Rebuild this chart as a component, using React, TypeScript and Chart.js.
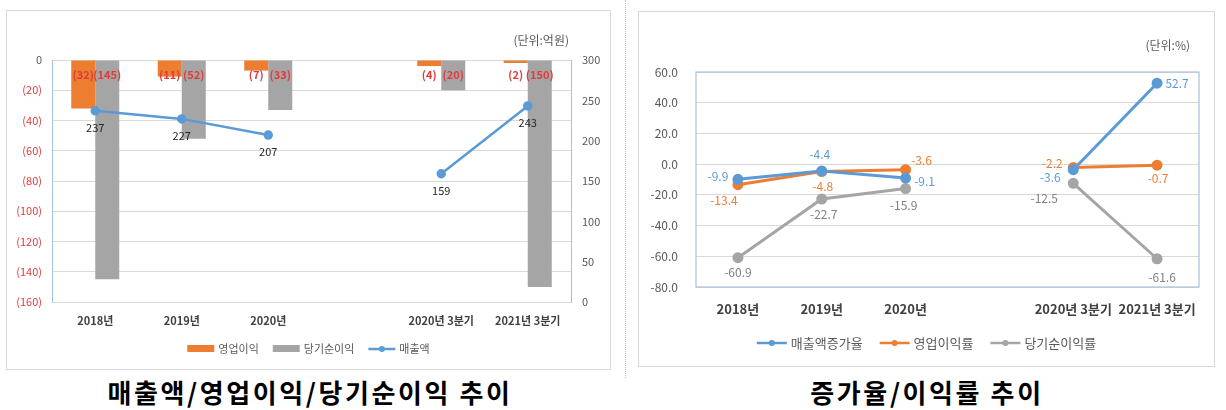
import React, { useEffect, useRef } from "react";
import { Chart, registerables } from "chart.js";
Chart.register(...registerables);

// ---------- data ----------
const categories = ["2018년", "2019년", "2020년", "", "2020년 3분기", "2021년 3분기"];
const operatingProfit = [-32, -11, -7, null, -4, -2];
const netProfit = [-145, -52, -33, null, -20, -150];
const sales = [237, 227, 207, null, 159, 243];

const salesGrowth = [-9.9, -4.4, -9.1, null, -3.6, 52.7];
const operatingMargin = [-13.4, -4.8, -3.6, null, -2.2, -0.7];
const netMargin = [-60.9, -22.7, -15.9, null, -12.5, -61.6];

const leftTitle = "매출액/영업이익/당기순이익 추이";
const rightTitle = "증가율/이익률 추이";
const leftUnit = "(단위:억원)";
const rightUnit = "(단위:%)";

// ---------- styles ----------
const BLUE = "#5B9BD5";
const ORANGE = "#ED7D31";
const GRAY = "#A5A5A5";
const RED = "#e03c3c";
const TEXT = "#595959";
const FONT = "'Noto Sans CJK KR', 'Noto Sans', sans-serif";

// label offsets (dx, dy) relative to each point for the right chart
const growthLabelOffsets = [[-20, -3], [-2, -16], [19, 3], null, [-23, 8], [20, 0]];
const opLabelOffsets = [[-14, 16], [1, 15], [16, -9], null, [-21, -4], [1, 13]];
const netLabelOffsets = [[0, 15], [2, 15], [-2, 17], null, [-29, 15], [5, 19]];

type LegendItem = { kind: "rect" | "line"; color: string; text: string };

function drawLegend(chart: any, items: LegendItem[], y: number, fontSize: number, sample: number, gap: number) {
  const ctx = chart.ctx;
  ctx.save();
  ctx.font = `${fontSize}px ${FONT}`;
  const widths = items.map((it) => sample + 4 + ctx.measureText(it.text).width);
  const total = widths.reduce((a, b) => a + b, 0) + gap * (items.length - 1);
  let x = chart.width / 2 - total / 2;
  items.forEach((it, i) => {
    if (it.kind === "rect") {
      ctx.fillStyle = it.color;
      ctx.fillRect(x, y - 4, sample, 7);
    } else {
      ctx.strokeStyle = it.color;
      ctx.lineWidth = 2.5;
      ctx.beginPath();
      ctx.moveTo(x, y);
      ctx.lineTo(x + sample, y);
      ctx.stroke();
      ctx.fillStyle = it.color;
      ctx.beginPath();
      ctx.arc(x + sample / 2, y, 3, 0, Math.PI * 2);
      ctx.fill();
    }
    ctx.fillStyle = TEXT;
    ctx.textAlign = "left";
    ctx.textBaseline = "middle";
    ctx.fillText(it.text, x + sample + 4, y);
    x += widths[i] + gap;
  });
  ctx.restore();
}

export default function App() {
  const leftRef = useRef<HTMLCanvasElement>(null);
  const rightRef = useRef<HTMLCanvasElement>(null);

  useEffect(() => {
    document.body.style.margin = "0";
    document.body.style.background = "#ffffff";
    Chart.defaults.font.family = FONT;

    const leftPlugin = {
      id: "leftLabels",
      afterDatasetsDraw(chart: any) {
        const ctx = chart.ctx;
        ctx.save();
        ctx.textAlign = "center";
        ctx.textBaseline = "middle";
        // bar labels
        [0, 1].forEach((di) => {
          const meta = chart.getDatasetMeta(di);
          const data = chart.data.datasets[di].data;
          ctx.font = `bold 11px ${FONT}`;
          ctx.fillStyle = RED;
          meta.data.forEach((el: any, j: number) => {
            const v = data[j];
            if (v === null || v === undefined) return;
            ctx.fillText(`(${Math.abs(v)})`, el.x, chart.chartArea.top + 15);
          });
        });
        // line labels
        const meta = chart.getDatasetMeta(2);
        const data = chart.data.datasets[2].data;
        ctx.font = `11px ${FONT}`;
        ctx.fillStyle = "#262626";
        meta.data.forEach((el: any, j: number) => {
          const v = data[j];
          if (v === null || v === undefined) return;
          ctx.fillText(String(v), el.x, el.y + 17);
        });
        // unit
        ctx.font = `12px ${FONT}`;
        ctx.fillStyle = TEXT;
        ctx.textAlign = "right";
        ctx.fillText(leftUnit, chart.chartArea.right - 2, 30);
        ctx.restore();
        drawLegend(
          chart,
          [
            { kind: "rect", color: ORANGE, text: chart.data.datasets[0].label },
            { kind: "rect", color: GRAY, text: chart.data.datasets[1].label },
            { kind: "line", color: BLUE, text: chart.data.datasets[2].label },
          ],
          339,
          11,
          27,
          14
        );
      },
    };

    const c1 = new Chart(leftRef.current as HTMLCanvasElement, {
      type: "bar",
      data: {
        labels: categories,
        datasets: [
          {
            label: "영업이익",
            data: operatingProfit as any,
            backgroundColor: ORANGE,
            yAxisID: "y",
            order: 2,
            barPercentage: 1,
            categoryPercentage: 0.555,
          },
          {
            label: "당기순이익",
            data: netProfit as any,
            backgroundColor: GRAY,
            yAxisID: "y",
            order: 2,
            barPercentage: 1,
            categoryPercentage: 0.555,
          },
          {
            type: "line",
            label: "매출액",
            data: sales as any,
            yAxisID: "y1",
            borderColor: BLUE,
            backgroundColor: BLUE,
            borderWidth: 2.5,
            pointRadius: 3.5,
            pointBackgroundColor: BLUE,
            pointBorderColor: BLUE,
            spanGaps: false,
            order: 0,
          } as any,
        ],
      },
      options: {
        animation: false,
        responsive: false,
        layout: { padding: { top: 50, right: 0, bottom: 38, left: 0 } },
        plugins: { legend: { display: false }, tooltip: { enabled: false } },
        scales: {
          x: {
            grid: { display: false, drawTicks: false },
            border: { display: true, color: "#d9d9d9" },
            ticks: { font: { size: 11, weight: "bold" }, color: "#404040", padding: 12, autoSkip: false, maxRotation: 0 },
            afterFit: (s: any) => {
              s.height = 30;
            },
          },
          y: {
            position: "left",
            min: -160,
            max: 0,
            ticks: {
              stepSize: 20,
              callback: (v: any) => (Number(v) === 0 ? "0" : `(${Math.abs(Number(v))})`),
              color: (c: any) => (c.tick && c.tick.value < 0 ? RED : TEXT),
              font: { size: 11 },
              padding: 10,
            },
            grid: { color: "#d9d9d9", drawTicks: false },
            border: { color: "#9dc3e6" },
            afterFit: (s: any) => {
              s.width = 46;
            },
          },
          y1: {
            position: "right",
            min: 0,
            max: 300,
            ticks: { stepSize: 50, color: TEXT, font: { size: 11 }, padding: 11 },
            grid: { display: false, drawTicks: false },
            border: { color: "#9dc3e6" },
            afterFit: (s: any) => {
              s.width = 40;
            },
          },
        },
      } as any,
      plugins: [leftPlugin],
    });

    const offsetsList = [growthLabelOffsets, opLabelOffsets, netLabelOffsets];
    const labelColors = [BLUE, ORANGE, "#808080"];

    const rightPlugin = {
      id: "rightLabels",
      beforeDatasetsDraw(chart: any) {
        const { left, top, right, bottom } = chart.chartArea;
        const ctx = chart.ctx;
        ctx.save();
        ctx.strokeStyle = "#a9c0dc";
        ctx.lineWidth = 1.2;
        ctx.strokeRect(left, top, right - left, bottom - top);
        ctx.restore();
      },
      afterDatasetsDraw(chart: any) {
        const ctx = chart.ctx;
        ctx.save();
        ctx.textAlign = "center";
        ctx.textBaseline = "middle";
        ctx.font = `12px ${FONT}`;
        chart.data.datasets.forEach((ds: any, di: number) => {
          const meta = chart.getDatasetMeta(di);
          ctx.fillStyle = labelColors[di];
          meta.data.forEach((el: any, j: number) => {
            const v = ds.data[j];
            const off = offsetsList[di][j];
            if (v === null || v === undefined || !off) return;
            ctx.fillText(Number(v).toFixed(1), el.x + off[0], el.y + off[1]);
          });
        });
        ctx.font = `12px ${FONT}`;
        ctx.fillStyle = TEXT;
        ctx.textAlign = "right";
        ctx.fillText(rightUnit, chart.chartArea.right - 9, 34);
        ctx.restore();
        drawLegend(
          chart,
          chart.data.datasets.map((ds: any, i: number) => ({ kind: "line", color: [BLUE, ORANGE, GRAY][i], text: ds.label })),
          332,
          13,
          30,
          17
        );
      },
    };

    const lineDs = (label: string, data: any, color: string) => ({
      label,
      data,
      borderColor: color,
      backgroundColor: color,
      pointBackgroundColor: color,
      pointBorderColor: color,
      borderWidth: 3,
      pointRadius: 4,
      spanGaps: false,
    });

    const c2 = new Chart(rightRef.current as HTMLCanvasElement, {
      type: "line",
      data: {
        labels: categories,
        datasets: [
          lineDs("매출액증가율", salesGrowth, BLUE),
          lineDs("영업이익률", operatingMargin, ORANGE),
          lineDs("당기순이익률", netMargin, GRAY),
        ],
      },
      options: {
        animation: false,
        responsive: false,
        layout: { padding: { top: 61, right: 16, bottom: 50, left: 0 } },
        plugins: { legend: { display: false }, tooltip: { enabled: false } },
        scales: {
          x: {
            offset: true,
            grid: { display: false, drawTicks: false },
            border: { display: false },
            ticks: { font: { size: 13, weight: "bold" }, color: "#404040", padding: 14, autoSkip: false, maxRotation: 0 },
            afterFit: (s: any) => {
              s.height = 30;
            },
          },
          y: {
            min: -80,
            max: 60,
            ticks: {
              stepSize: 20,
              callback: (v: any) => Number(v).toFixed(1),
              color: TEXT,
              font: { size: 12 },
              padding: 18,
            },
            grid: { color: "#d9d9d9", drawTicks: false },
            border: { display: false },
            afterFit: (s: any) => {
              s.width = 58;
            },
          },
        },
      } as any,
      plugins: [rightPlugin],
    });

    return () => {
      c1.destroy();
      c2.destroy();
    };
  }, []);

  const titleStyle: React.CSSProperties = {
    position: "absolute",
    top: 374,
    textAlign: "center",
    fontFamily: FONT,
    fontWeight: 700,
    fontSize: 26,
    lineHeight: "36px",
    color: "#000",
    letterSpacing: 2.6,
  };

  return (
    <div style={{ position: "relative", width: 1226, height: 410, background: "#fff", overflow: "hidden" }}>
      <div style={{ position: "absolute", left: 6, top: 10, width: 605, height: 360, border: "1px solid #d9d9d9", boxSizing: "border-box" }} />
      <div style={{ position: "absolute", left: 638, top: 11, width: 577, height: 356, border: "1px solid #d9d9d9", boxSizing: "border-box" }} />
      <div style={{ position: "absolute", left: 625, top: 0, height: 378, borderLeft: "1px dotted #bfbfbf" }} />
      <canvas ref={leftRef} width={605} height={360} style={{ position: "absolute", left: 6, top: 10 }} />
      <canvas ref={rightRef} width={577} height={356} style={{ position: "absolute", left: 638, top: 11 }} />
      <div style={{ ...titleStyle, left: 0, width: 620 }}>{leftTitle}</div>
      <div style={{ ...titleStyle, left: 627, width: 600 }}>{rightTitle}</div>
    </div>
  );
}
